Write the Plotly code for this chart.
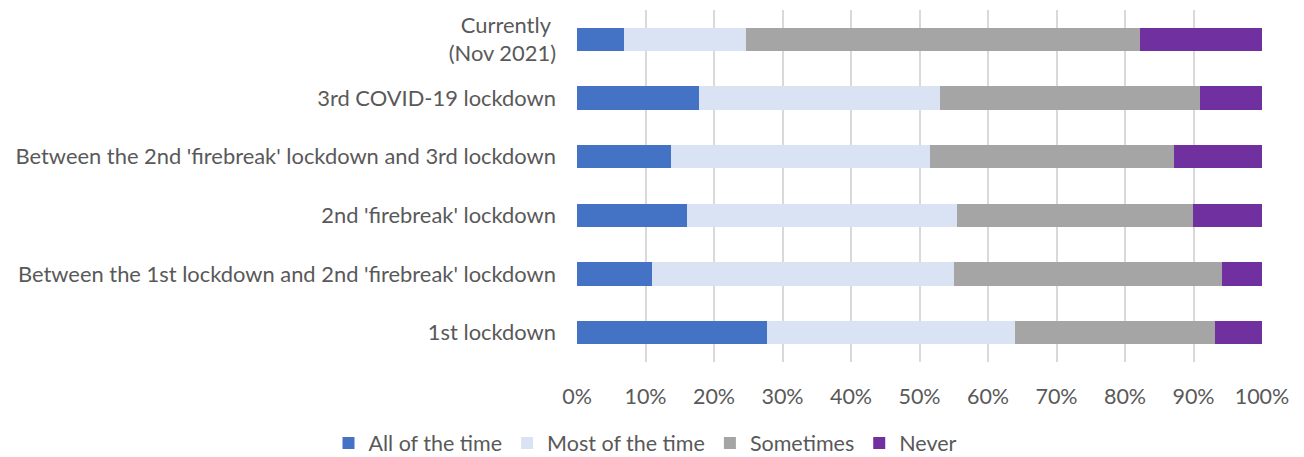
import plotly.graph_objects as go

categories = [
    "1st lockdown",
    "Between the 1st lockdown and 2nd 'firebreak' lockdown",
    "2nd 'firebreak' lockdown",
    "Between the 2nd 'firebreak' lockdown and 3rd lockdown",
    "3rd COVID-19 lockdown",
    "Currently <br>(Nov 2021)",
]
all_of_time = [27.8, 10.9, 16.1, 13.7, 17.8, 6.8]
most_of_time = [36.2, 44.1, 39.4, 37.8, 35.2, 17.9]
sometimes = [29.1, 39.1, 34.4, 35.6, 38.0, 57.5]
never = [6.9, 5.9, 10.1, 12.9, 9.0, 17.8]
tick_vals = [0, 10, 20, 30, 40, 50, 60, 70, 80, 90, 100]
tick_text = [f"{v}%" for v in tick_vals]

series = [
    ("All of the time", all_of_time, "#4472C4"),
    ("Most of the time", most_of_time, "#DAE3F3"),
    ("Sometimes", sometimes, "#A5A5A5"),
    ("Never", never, "#7030A0"),
]

fig = go.Figure()
for name, vals, color in series:
    fig.add_trace(go.Bar(
        y=categories, x=vals, name=name, orientation="h",
        marker=dict(color=color, line=dict(width=0)),
    ))

FS = 21.5
fig.update_layout(
    barmode="stack",
    bargap=0.6,
    width=1304, height=457,
    margin=dict(l=569, r=50, t=2, b=103),
    paper_bgcolor="white", plot_bgcolor="white",
    font=dict(family="Lato", size=FS, color="#595959"),
    xaxis=dict(
        range=[0, 100], tickvals=tick_vals, ticktext=tick_text,
        showgrid=True, gridcolor="#D9D9D9", gridwidth=1.5,
        zeroline=False, showline=False, ticks="", ticklabelstandoff=19,
        fixedrange=True,
    ),
    yaxis=dict(showgrid=False, ticks="", ticklabelstandoff=20, automargin=False,
               tickfont=dict(size=21.9)),
    legend=dict(
        orientation="h", x=0.1, xanchor="center", y=-0.23, yanchor="middle",
        font=dict(size=FS, color="#595959"), traceorder="normal",
        itemwidth=30,
    ),
    showlegend=True,
)

fig.write_html("out.html")
